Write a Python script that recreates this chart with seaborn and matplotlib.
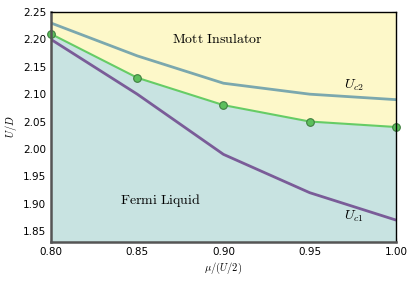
import matplotlib
matplotlib.use('Agg')
import matplotlib.pyplot as plt
import numpy as np
import pandas as pd
import seaborn as sns

mu = [0.80, 0.85, 0.90, 0.95, 1.00]
u_c2 = [2.23, 2.17, 2.12, 2.10, 2.09]
u_c = [2.21, 2.13, 2.08, 2.05, 2.04]
u_c1 = [2.20, 2.10, 1.99, 1.92, 1.87]

YLIM = (1.83, 2.25)

sns.set_style('ticks')
plt.rcParams['font.family'] = ['DejaVu Sans']
plt.rcParams['mathtext.fontset'] = 'cm'
plt.rcParams['text.color'] = 'black'
plt.rcParams['axes.labelcolor'] = 'black'
plt.rcParams['xtick.labelcolor'] = 'black'
plt.rcParams['ytick.labelcolor'] = 'black'

df = pd.DataFrame({'mu': mu, 'uc2': u_c2, 'uc': u_c, 'uc1': u_c1})

fig = plt.figure(figsize=(4.15, 2.81), dpi=100)
ax = fig.add_axes([0.123, 0.139, 0.831, 0.818])

ax.fill_between(df['mu'], YLIM[0], df['uc'], color='#c8e3e1', lw=0)
ax.fill_between(df['mu'], df['uc'], YLIM[1], color='#fdf8c9', lw=0)

sns.lineplot(data=df, x='mu', y='uc2', ax=ax, color='#7ba8ae', lw=2)
sns.lineplot(data=df, x='mu', y='uc', ax=ax, color='#66cc66', lw=1.5,
             marker='o', markersize=5.5, markerfacecolor='#5cbf5c',
             markeredgecolor='#3f7f3f', markeredgewidth=0.8, clip_on=False)
sns.lineplot(data=df, x='mu', y='uc1', ax=ax, color='#7a5c98', lw=2)

ax.set_xlim(0.8, 1.0)
ax.set_ylim(*YLIM)
ax.set_xticks([0.80, 0.85, 0.90, 0.95, 1.00])
ax.set_yticks(np.arange(1.85, 2.26, 0.05))
ax.xaxis.set_major_formatter(matplotlib.ticker.FormatStrFormatter('%.2f'))
ax.yaxis.set_major_formatter(matplotlib.ticker.FormatStrFormatter('%.2f'))
ax.tick_params(direction='in', top=True, right=True, labelsize=7.5, length=3,
               color='#444444')

for side in ['left', 'bottom']:
    ax.spines[side].set_color('#555555')
    ax.spines[side].set_linewidth(1.8)
for side in ['top', 'right']:
    ax.spines[side].set_visible(True)
    ax.spines[side].set_color('black')
    ax.spines[side].set_linewidth(1.0)

ax.set_xlabel(r'$\mu/(U/2)$', fontsize=7.5, labelpad=3)
ax.set_ylabel(r'$U/D$', fontsize=7.5, labelpad=3)

ax.text(0.870, 2.20, r'$\mathrm{Mott\ Insulator}$', fontsize=10, va='center')
ax.text(0.840, 1.905, r'$\mathrm{Fermi\ Liquid}$', fontsize=10, va='center')
ax.text(0.970, 2.117, r'$U_{c2}$', fontsize=10, va='center')
ax.text(0.970, 1.877, r'$U_{c1}$', fontsize=10, va='center')

fig.savefig('out.png', dpi=100)
